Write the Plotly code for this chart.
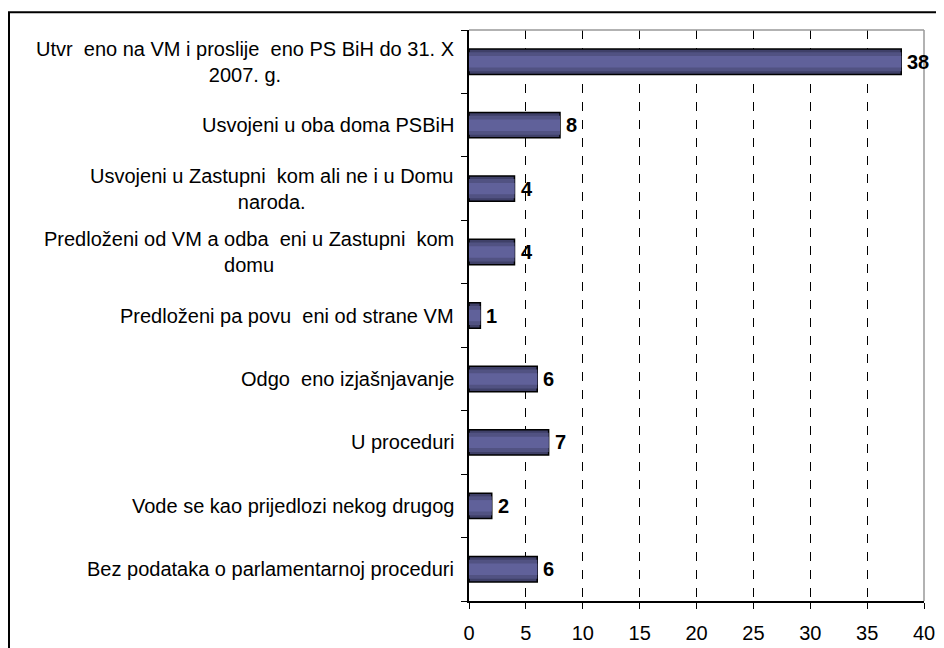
import plotly.graph_objects as go

CATEGORIES = [
    "Utvr  eno na VM i proslije  eno PS BiH do 31. X<br>2007. g.",
    "Usvojeni u oba doma PSBiH",
    "Usvojeni u Zastupni  kom ali ne i u Domu<br>naroda.",
    "Predloženi od VM a odba  eni u Zastupni  kom<br>domu",
    "Predloženi pa povu  eni od strane VM",
    "Odgo  eno izjašnjavanje",
    "U proceduri",
    "Vode se kao prijedlozi nekog drugog",
    "Bez podataka o parlamentarnoj proceduri",
]
VALUES = [38, 8, 4, 4, 1, 6, 7, 2, 6]
X_TICKS = [0, 5, 10, 15, 20, 25, 30, 35, 40]

FONT = "Liberation Sans, Arial, sans-serif"
DARK = "#000000"

fig = go.Figure()
# fake vertical gradient: stacked overlays of narrower, lighter bars
for width, color, line_w in [(0.4, "#3f4068", 1.5), (0.3, "#515282", 0), (0.18, "#60619a", 0)]:
    fig.add_trace(go.Bar(
        y=list(range(len(CATEGORIES))), x=VALUES, orientation="h", width=width,
        marker=dict(color=color, line=dict(color="#000000", width=line_w)),
        hoverinfo="skip", showlegend=False,
    ))

for i, (label, val) in enumerate(zip(CATEGORIES, VALUES)):
    fig.add_annotation(
        x=0, y=i, xref="x", yref="y", text=label, showarrow=False,
        xanchor="right", yanchor="middle", align="center", xshift=-13,
        font=dict(family=FONT, size=20, color=DARK),
    )
    fig.add_annotation(
        x=val, y=i, xref="x", yref="y", text=f"<b>{val}</b>", showarrow=False,
        xanchor="left", yanchor="middle", xshift=4,
        font=dict(family=FONT, size=20, color=DARK),
    )

# page body has an 8px margin, so the margins below are shifted to compensate
fig.update_layout(
    width=944, height=648,
    paper_bgcolor="#FFFFFF", plot_bgcolor="#FFFFFF",
    margin=dict(l=461, r=28, t=22, b=53),
    barmode="overlay",
    font=dict(family=FONT, color=DARK),
    shapes=[
        # outer chart border (left/top visible)
        dict(type="rect", xref="paper", yref="paper", x0=-1.011, x1=1.2, y0=-0.2, y1=1.031,
             line=dict(color="#000000", width=2), layer="below"),
        # plot area border top/right in gray
        dict(type="line", xref="paper", yref="paper", x0=0, x1=1, y0=1, y1=1,
             line=dict(color="#999999", width=1.5)),
        dict(type="line", xref="paper", yref="paper", x0=1, x1=1, y0=0, y1=1,
             line=dict(color="#999999", width=1.5)),
    ],
)
fig.update_xaxes(
    range=[0, 40], tickvals=X_TICKS, showgrid=True, gridcolor="#000000",
    griddash="dash", gridwidth=1, showline=True, linecolor="#000000", linewidth=1.5,
    ticks="outside", ticklen=6, tickcolor="#000000", zeroline=False,
    ticklabelstandoff=7,
    tickfont=dict(family=FONT, size=20, color=DARK),
)
fig.update_yaxes(
    range=[len(CATEGORIES) - 0.5, -0.5], tickvals=[i + 0.5 for i in range(-1, len(CATEGORIES))],
    showticklabels=False, showgrid=False, showline=True, linecolor="#000000", linewidth=1.5,
    ticks="outside", ticklen=6, tickcolor="#000000", zeroline=False,
)

fig.write_html("out.html")
